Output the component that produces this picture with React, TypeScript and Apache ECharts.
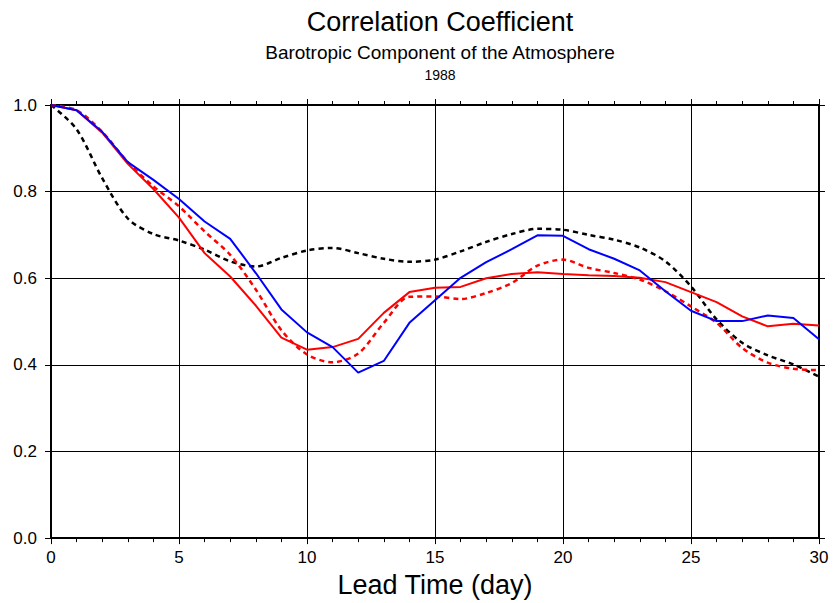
import React, { useEffect, useRef } from "react";
import * as echarts from "echarts";

const days = Array.from({ length: 31 }, (_, i) => i);
const blueSolid = [1.0, 0.988, 0.938, 0.868, 0.827, 0.783, 0.731, 0.691, 0.612, 0.528, 0.475, 0.441, 0.382, 0.409, 0.497, 0.549, 0.601, 0.637, 0.667, 0.699, 0.698, 0.667, 0.645, 0.618, 0.570, 0.525, 0.501, 0.501, 0.514, 0.508, 0.459];
const redSolid = [1.0, 0.988, 0.936, 0.864, 0.806, 0.740, 0.658, 0.604, 0.537, 0.463, 0.435, 0.441, 0.460, 0.520, 0.568, 0.578, 0.580, 0.600, 0.610, 0.614, 0.610, 0.607, 0.605, 0.601, 0.591, 0.568, 0.545, 0.512, 0.489, 0.495, 0.491];
const redDashed = [1.0, 0.988, 0.938, 0.868, 0.812, 0.766, 0.708, 0.654, 0.574, 0.480, 0.424, 0.406, 0.426, 0.497, 0.557, 0.558, 0.552, 0.566, 0.589, 0.629, 0.643, 0.624, 0.612, 0.597, 0.570, 0.535, 0.497, 0.439, 0.405, 0.391, 0.388];
const blackDashed = [1.0, 0.944, 0.831, 0.738, 0.702, 0.687, 0.666, 0.639, 0.627, 0.647, 0.664, 0.670, 0.658, 0.645, 0.638, 0.643, 0.662, 0.684, 0.702, 0.714, 0.712, 0.700, 0.689, 0.671, 0.639, 0.581, 0.505, 0.451, 0.422, 0.401, 0.373];

const pair = (v: number[]) => days.map((d, i) => [d, v[i]]);

export default function App() {
  const ref = useRef<HTMLDivElement>(null);
  useEffect(() => {
    if (!ref.current) return;
    const chart = echarts.init(ref.current, null, { renderer: "svg" });
    const font = "Liberation Sans, Arial, sans-serif";
    const baseX = {
      type: "value",
      min: 0,
      max: 30,
      interval: 5,
      axisLine: { show: true, onZero: false, lineStyle: { color: "#000", width: 2 } },
      axisTick: { show: true, length: 6, inside: false, lineStyle: { color: "#000", width: 1 } },
      minorTick: { show: true, splitNumber: 5, length: 4, lineStyle: { color: "#000", width: 1 } },
      splitLine: { show: false },
    };
    const baseY = {
      type: "value",
      min: 0,
      max: 1,
      interval: 0.2,
      axisLine: { show: true, onZero: false, lineStyle: { color: "#000", width: 2 } },
      axisTick: { show: true, length: 6, lineStyle: { color: "#000", width: 1 } },
      splitLine: { show: false },
    };
    chart.setOption({
      animation: false,
      backgroundColor: "#fff",
      title: [
        { text: "Correlation Coefficient", left: 435, textAlign: "center", top: 3, textStyle: { fontFamily: font, fontSize: 27, fontWeight: "normal", color: "#000" } },
        { text: "Barotropic Component of the Atmosphere", left: 435, textAlign: "center", top: 38, textStyle: { fontFamily: font, fontSize: 19, fontWeight: "normal", color: "#000" } },
        { text: "1988", left: 435, textAlign: "center", top: 63, textStyle: { fontFamily: font, fontSize: 14, fontWeight: "normal", color: "#000" } },
      ],
      grid: { left: 51, right: 14, top: 105, bottom: 64, containLabel: false },
      xAxis: [
        {
          ...baseX,
          position: "bottom",
          name: "Lead Time (day)",
          nameLocation: "middle",
          nameGap: 30,
          nameTextStyle: { fontFamily: font, fontSize: 27, color: "#000" },
          axisLabel: { show: true, fontFamily: font, fontSize: 17, color: "#000", margin: 11 },
          splitLine: { show: true, lineStyle: { color: "#000", width: 1 } },
        },
        { ...baseX, position: "top", axisLabel: { show: false } },
      ],
      yAxis: [
        {
          ...baseY,
          position: "left",
          axisLabel: { show: true, fontFamily: font, fontSize: 17, color: "#000", margin: 14, formatter: (v: number) => v.toFixed(1) },
          splitLine: { show: true, lineStyle: { color: "#000", width: 1 } },
        },
        { ...baseY, position: "right", axisLabel: { show: false } },
      ],
      series: [
        { type: "line", data: pair(blackDashed), smooth: 0.3, showSymbol: false, lineStyle: { color: "#000", width: 2.5, type: [5, 4] }, z: 3 },
        { type: "line", data: pair(redDashed), smooth: 0.3, showSymbol: false, lineStyle: { color: "#ff0000", width: 2.5, type: [5, 4] }, z: 4 },
        { type: "line", data: pair(redSolid), showSymbol: false, lineStyle: { color: "#ff0000", width: 2 }, z: 5 },
        { type: "line", data: pair(blueSolid), showSymbol: false, lineStyle: { color: "#0000ff", width: 2 }, z: 6 },
      ],
    });
    return () => chart.dispose();
  }, []);
  return <div ref={ref} style={{ width: 833, height: 603, position: "absolute", left: 0, top: 0 }} />;
}
